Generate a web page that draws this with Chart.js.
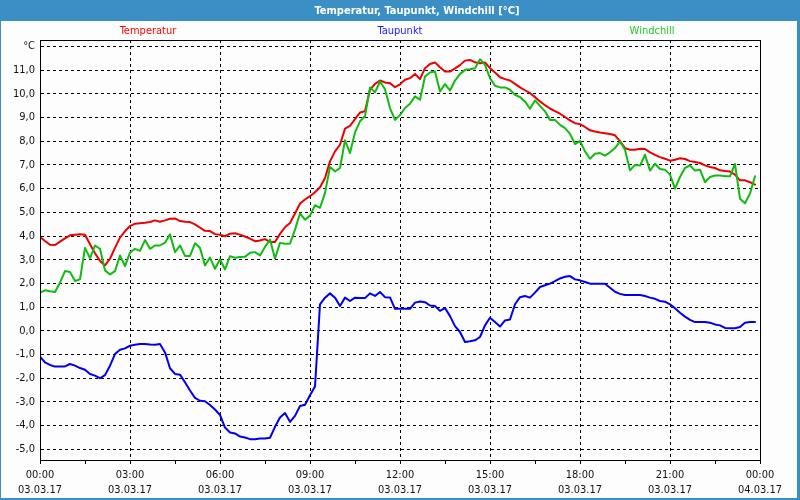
<!DOCTYPE html>
<html>
<head>
<meta charset="utf-8">
<title>Temperatur, Taupunkt, Windchill</title>
<script src="https://cdn.jsdelivr.net/npm/chart.js@4.4.1/dist/chart.umd.min.js"></script>
<style>
  html, body { margin: 0; padding: 0; background: #3b8fc5; }
  canvas { display: block; }
</style>
</head>
<body>
<canvas id="grafico" width="800" height="500"></canvas>
<script>
// Messwerte alle 10 Minuten, 03.03.17 00:00 bis 23:50
const temperatur = [
  3.96, 3.79, 3.63, 3.62, 3.76, 3.90,
  4.03, 4.05, 4.07, 4.05, 3.65, 3.27,
  2.95, 2.76, 3.04, 3.50, 3.93, 4.20,
  4.42, 4.52, 4.54, 4.56, 4.59, 4.66,
  4.60, 4.66, 4.73, 4.74, 4.63, 4.60,
  4.59, 4.49, 4.35, 4.22, 4.21, 4.08,
  4.05, 3.99, 4.10, 4.12, 4.06, 3.98,
  3.89, 3.78, 3.81, 3.87, 3.75, 3.75,
  4.09, 4.37, 4.55, 4.95, 5.37, 5.54,
  5.68, 5.85, 6.06, 6.45, 7.15, 7.57,
  7.85, 8.53, 8.65, 8.93, 9.21, 9.26,
  10.17, 10.42, 10.56, 10.48, 10.45, 10.28,
  10.40, 10.59, 10.66, 10.84, 10.62, 11.08,
  11.26, 11.32, 11.12, 10.94, 10.94, 11.07,
  11.21, 11.40, 11.43, 11.33, 11.29, 11.32,
  11.08, 10.90, 10.70, 10.62, 10.56, 10.42,
  10.27, 10.15, 10.03, 9.86, 9.68, 9.52,
  9.38, 9.27, 9.16, 9.02, 8.88, 8.76,
  8.72, 8.60, 8.46, 8.41, 8.37, 8.34,
  8.30, 8.25, 8.00, 7.71, 7.64, 7.64,
  7.68, 7.67, 7.53, 7.42, 7.33, 7.26,
  7.18, 7.22, 7.28, 7.25, 7.16, 7.12,
  7.08, 6.98, 6.91, 6.87, 6.77, 6.74,
  6.72, 6.59, 6.35, 6.35, 6.27, 6.17
];

const taupunkt = [
  -1.09, -1.33, -1.44, -1.51, -1.50, -1.50,
  -1.40, -1.47, -1.57, -1.64, -1.82, -1.89,
  -2.00, -1.87, -1.47, -0.98, -0.80, -0.74,
  -0.63, -0.59, -0.56, -0.56, -0.58, -0.59,
  -0.56, -0.91, -1.58, -1.82, -1.85, -2.17,
  -2.52, -2.83, -2.95, -2.97, -3.13, -3.32,
  -3.55, -4.08, -4.29, -4.33, -4.46, -4.50,
  -4.57, -4.57, -4.54, -4.54, -4.51, -4.05,
  -3.66, -3.47, -3.84, -3.59, -3.17, -3.12,
  -2.72, -2.35, 1.12, 1.40, 1.58, 1.40,
  1.05, 1.40, 1.26, 1.40, 1.38, 1.38,
  1.58, 1.47, 1.64, 1.42, 1.41, 0.93,
  0.93, 0.93, 0.93, 1.19, 1.24, 1.21,
  1.07, 1.05, 0.84, 0.96, 0.62, 0.20,
  -0.05, -0.47, -0.44, -0.40, -0.26, 0.23,
  0.55, 0.37, 0.18, 0.44, 0.48, 1.12,
  1.42, 1.47, 1.40, 1.61, 1.85, 1.92,
  1.99, 2.10, 2.21, 2.28, 2.31, 2.17,
  2.13, 2.06, 1.99, 1.99, 1.99, 1.99,
  1.82, 1.65, 1.56, 1.51, 1.51, 1.51,
  1.51, 1.47, 1.40, 1.35, 1.26, 1.23,
  1.12, 0.95, 0.76, 0.60, 0.46, 0.37,
  0.37, 0.37, 0.34, 0.27, 0.23, 0.12,
  0.11, 0.11, 0.16, 0.34, 0.37, 0.37
];

const windchill = [
  1.61, 1.71, 1.67, 1.64, 2.03, 2.52,
  2.48, 2.10, 2.17, 3.50, 3.06, 3.60,
  3.46, 2.55, 2.38, 2.52, 3.18, 2.73,
  3.30, 3.46, 3.37, 3.83, 3.46, 3.60,
  3.60, 3.72, 4.07, 3.32, 3.60, 3.16,
  3.16, 3.69, 3.50, 2.76, 3.09, 2.62,
  3.02, 2.59, 3.15, 3.08, 3.11, 3.12,
  3.29, 3.32, 3.18, 3.54, 3.85, 3.05,
  3.71, 3.67, 3.68, 4.27, 4.95, 4.69,
  4.86, 5.30, 5.19, 5.82, 6.91, 6.73,
  6.87, 8.04, 7.50, 8.37, 8.84, 9.05,
  10.27, 10.06, 10.52, 10.19, 9.40, 8.90,
  9.10, 9.40, 9.58, 9.89, 9.75, 10.73,
  10.90, 10.94, 10.10, 10.41, 10.14, 10.56,
  10.83, 11.01, 11.04, 11.08, 11.46, 11.22,
  10.66, 10.34, 10.27, 10.27, 10.17, 9.96,
  9.86, 9.68, 9.37, 9.72, 9.49, 9.26,
  8.90, 8.90, 8.69, 8.55, 8.31, 7.88,
  8.01, 7.57, 7.26, 7.47, 7.50, 7.39,
  7.53, 7.71, 7.99, 7.64, 6.77, 7.00,
  6.97, 7.43, 6.76, 7.05, 6.83, 6.80,
  6.59, 6.00, 6.49, 6.87, 6.98, 6.76,
  6.80, 6.27, 6.49, 6.55, 6.55, 6.52,
  6.52, 7.04, 5.57, 5.38, 5.79, 6.52
];

// Beschriftung der x-Achse (alle 3 Stunden)
const xZeiten = ['00:00', '03:00', '06:00', '09:00', '12:00', '15:00', '18:00', '21:00', '00:00'];
const xDaten = ['03.03.17', '03.03.17', '03.03.17', '03.03.17', '03.03.17', '03.03.17', '03.03.17', '03.03.17', '04.03.17'];

const titel = 'Temperatur, Taupunkt, Windchill [°C]';
const einheit = '°C';

const schriftart = '"DejaVu Sans Condensed", "Liberation Sans", sans-serif';

// Zeitachse in Stunden, ein Wert alle 10 Minuten
const punkte = werte => werte.map((v, i) => ({ x: i / 6, y: v }));

// Rahmen, Titelleiste und Legende
const rahmenPlugin = {
  id: 'rahmen',
  beforeDraw(chart) {
    const ctx = chart.ctx;
    ctx.save();
    ctx.fillStyle = '#3b8fc5';
    ctx.fillRect(0, 0, chart.width, chart.height);
    ctx.fillStyle = '#fcfdfc';
    ctx.fillRect(1, 21, 796, 477);

    ctx.fillStyle = '#ffffff';
    ctx.font = 'bold 11px ' + schriftart;
    ctx.textAlign = 'center';
    ctx.textBaseline = 'middle';
    ctx.fillText(titel, 417, 11);

    // Legende als farbiger Text
    const mitten = [148, 400, 652];
    ctx.font = '11px ' + schriftart;
    chart.data.datasets.forEach((ds, i) => {
      ctx.fillStyle = ds.legendColor;
      ctx.fillText(ds.label, mitten[i], 31);
    });
    ctx.restore();
  },
  afterDraw(chart) {
    const a = chart.chartArea;
    const ctx = chart.ctx;
    ctx.save();
    ctx.strokeStyle = '#000000';
    ctx.lineWidth = 1;
    ctx.strokeRect(Math.round(a.left) + 0.5, Math.round(a.top) + 0.5,
      Math.round(a.right - a.left), Math.round(a.bottom - a.top));
    ctx.restore();
  }
};

const ctx = document.getElementById('grafico').getContext('2d');

new Chart(ctx, {
  type: 'line',
  data: {
    datasets: [
      {
        label: 'Temperatur',
        data: punkte(temperatur),
        borderColor: '#ee0000',
        legendColor: '#ff0000',
        order: 1
      },
      {
        label: 'Taupunkt',
        data: punkte(taupunkt),
        borderColor: '#0000ee',
        legendColor: '#1a1aff',
        order: 2
      },
      {
        label: 'Windchill',
        data: punkte(windchill),
        borderColor: '#11bb11',
        legendColor: '#22cc22',
        order: 0
      }
    ]
  },
  options: {
    responsive: false,
    animation: false,
    events: [],
    layout: { padding: { top: 40, right: 40, left: 0, bottom: 0 } },
    elements: {
      line: { borderWidth: 2, tension: 0, fill: false, borderCapStyle: 'round', borderJoinStyle: 'round' },
      point: { radius: 0 }
    },
    plugins: {
      legend: { display: false },
      title: { display: false },
      tooltip: { enabled: false }
    },
    scales: {
      x: {
        type: 'linear',
        min: 0,
        max: 24,
        afterFit(scale) { scale.height = 40; },
        border: { color: '#000000', width: 1, dash: [3, 3] },
        grid: {
          color: c => (c.tick && c.tick.value % 3 === 0 && c.tick.value > 0 && c.tick.value < 24) ? '#000000' : 'rgba(0,0,0,0)',
          tickColor: '#000000',
          tickLength: 4,
          tickBorderDash: [],
          lineWidth: 1
        },
        ticks: {
          stepSize: 1.5,
          autoSkip: false,
          maxRotation: 0,
          padding: 3,
          color: '#111111',
          font: { family: schriftart, size: 11, lineHeight: 1.4 },
          callback: v => {
            if (v % 3 !== 0) return '';
            const k = v / 3;
            return [xZeiten[k], xDaten[k]];
          }
        }
      },
      y: {
        min: -5.45,
        max: 12.27,
        afterFit(scale) { scale.width = 40; },
        border: { color: '#000000', width: 1, dash: [3, 3] },
        grid: {
          color: '#000000',
          lineWidth: 1,
          drawTicks: false
        },
        ticks: {
          stepSize: 1,
          includeBounds: false,
          padding: 5,
          color: '#111111',
          font: { family: schriftart, size: 11 },
          callback: v => v === 12 ? einheit : v.toFixed(1).replace('.', ',')
        }
      }
    }
  },
  plugins: [rahmenPlugin]
});
</script>
</body>
</html>
